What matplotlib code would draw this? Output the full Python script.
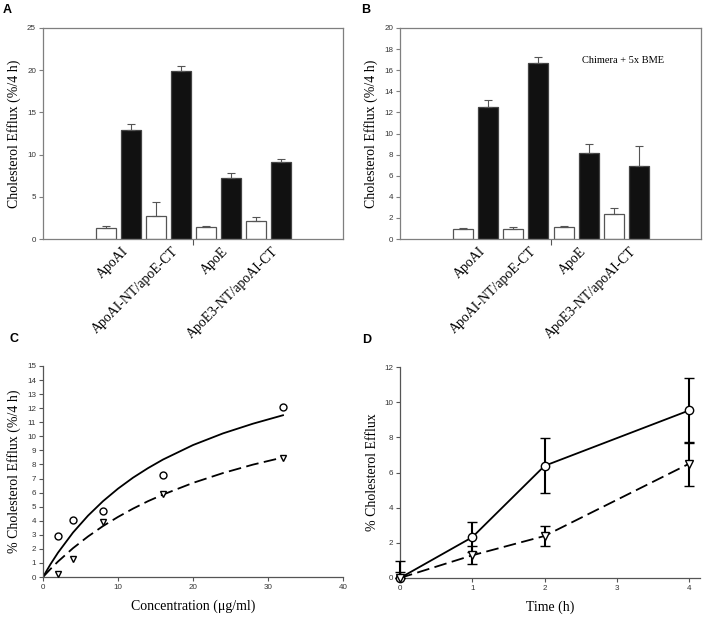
import matplotlib
matplotlib.use("Agg")
import matplotlib.pyplot as plt
import numpy as np

# ---------------- data ----------------
categories = ["ApoAI", "ApoAI-NT/apoE-CT", "ApoE", "ApoE3-NT/apoAI-CT"]

a_white = [1.25, 2.72, 1.43, 2.17]
a_white_err = [0.30, 1.70, 0.14, 0.47]
a_black = [12.95, 19.88, 7.20, 9.10]
a_black_err = [0.65, 0.56, 0.66, 0.42]

b_white = [0.95, 0.98, 1.14, 2.37]
b_white_err = [0.10, 0.19, 0.13, 0.60]
b_black = [12.47, 16.65, 8.16, 6.90]
b_black_err = [0.69, 0.56, 0.80, 1.90]
b_note = "Chimera + 5x BME"

conc = [2, 4, 8, 16, 32]
c_circle = [2.94, 4.08, 4.70, 7.26, 12.06]
c_tri = [0.24, 1.26, 3.94, 5.91, 8.43]
fit_x = [0, 1, 2, 4, 6, 8, 10, 12, 14, 16, 20, 24, 28, 32]
fit_solid = [0.0, 0.91, 1.73, 3.16, 4.36, 5.39, 6.28, 7.06, 7.74, 8.35, 9.38, 10.21, 10.90, 11.50]
fit_dash = [0.0, 0.57, 1.10, 2.05, 2.88, 3.62, 4.27, 4.86, 5.39, 5.86, 6.69, 7.39, 7.99, 8.50]

time_h = [0, 1, 2, 4]
d_circle = [0.0, 2.32, 6.38, 9.53]
d_circle_err_up = [0.95, 0.85, 1.56, 1.87]
d_circle_err_low = [0.0, 0.85, 1.56, 1.87]
d_tri = [0.0, 1.29, 2.39, 6.50]
d_tri_err_up = [0.36, 0.52, 0.59, 1.26]
d_tri_err_low = [0.0, 0.52, 0.59, 1.26]

# ---------------- style ----------------
SERIF = "Liberation Serif"
SANS = "Liberation Sans"
SPINE = "#7f7f7f"
TICKFS = 5.8
LABFS = 10

fig = plt.figure(figsize=(7.2, 6.22), dpi=100)
W, H = 720.0, 622.0


def axes_px(l, t, r, b):
    return fig.add_axes([l / W, 1 - b / H, (r - l) / W, (b - t) / H])


def style_ticks(ax):
    for lab in ax.get_xticklabels() + ax.get_yticklabels():
        lab.set_fontfamily(SANS)
        lab.set_fontsize(TICKFS)
        lab.set_color("#333333")


def bar_panel(ax, white, werr, black, berr, ymax, ystep):
    x = np.arange(len(categories))
    zeros = np.zeros(len(categories))
    ekw = dict(ecolor="#555555", elinewidth=0.8, capsize=3.2, capthick=0.8)
    ax.bar(x - 0.25, white, 0.4, color="white", edgecolor="#555555", linewidth=0.9,
           yerr=[zeros, werr], error_kw=ekw, zorder=2)
    ax.bar(x + 0.25, black, 0.4, color="#111111", edgecolor="#444444", linewidth=0.9,
           yerr=[zeros, berr], error_kw=ekw, zorder=2)
    ax.set_xlim(-1.51, 4.49)
    ax.set_ylim(0, ymax)
    ax.set_yticks(np.arange(0, ymax + 0.01, ystep))
    ax.set_xticks(x + 0.25)
    ax.set_xticklabels(categories, rotation=45, ha="right", fontfamily=SERIF, fontsize=LABFS)
    ax.set_xticks([1.49], minor=True)
    ax.tick_params(axis="x", which="major", length=0, pad=4)
    ax.tick_params(axis="x", which="minor", length=4, color="#555555", width=0.8)
    ax.tick_params(axis="y", length=3, color=SPINE, width=0.8, pad=2)
    for s in ax.spines.values():
        s.set_color(SPINE)
        s.set_linewidth(0.9)
    for lab in ax.get_yticklabels():
        lab.set_fontfamily(SANS)
        lab.set_fontsize(TICKFS)
        lab.set_color("#333333")
    ax.set_ylabel("Cholesterol Efflux (%/4 h)", fontfamily=SERIF, fontsize=LABFS, labelpad=4)


# Panel A
axA = axes_px(43, 28, 343, 239)
bar_panel(axA, a_white, a_white_err, a_black, a_black_err, 25, 5)

# Panel B
axB = axes_px(400, 28, 701, 239)
bar_panel(axB, b_white, b_white_err, b_black, b_black_err, 20, 2)
axB.text(0.74, 0.845, b_note, transform=axB.transAxes, ha="center", va="center",
         fontfamily=SERIF, fontsize=7.5)

# Panel C
axC = axes_px(43, 366, 343, 577)
axC.plot(fit_x, fit_solid, color="black", lw=1.3, zorder=2)
axC.plot(fit_x, fit_dash, color="black", lw=1.3, linestyle=(0, (7, 3)), zorder=2)
axC.plot(conc, c_circle, linestyle="none", marker="o", ms=5, mfc="white", mec="black", mew=1.0, zorder=3)
axC.plot(conc, c_tri, linestyle="none", marker="v", ms=5, mfc="white", mec="black", mew=1.0, zorder=3)
axC.set_xlim(0, 40)
axC.set_ylim(0, 15)
axC.set_xticks(np.arange(0, 41, 10))
axC.set_yticks(np.arange(0, 16, 1))
axC.set_xlabel("Concentration (\u03bcg/ml)", fontfamily=SERIF, fontsize=LABFS, labelpad=6)
axC.set_ylabel("% Cholesterol Efflux (%/4 h)", fontfamily=SERIF, fontsize=LABFS, labelpad=4)

# Panel D
axD = axes_px(400, 367, 700, 578)
ekd = dict(ecolor="black", elinewidth=1.5, capsize=3.5, capthick=1.5)
eb1 = axD.errorbar(time_h, d_circle, yerr=[d_circle_err_low, d_circle_err_up], color="black", lw=1.3,
                   marker="o", ms=6, mfc="white", mec="black", mew=1.0, zorder=3, **ekd)
eb2 = axD.errorbar(time_h, d_tri, yerr=[d_tri_err_low, d_tri_err_up], color="black", lw=1.3,
                   linestyle=(0, (7, 3)), marker="v", ms=6, mfc="white", mec="black", mew=1.0,
                   zorder=3, **ekd)
for eb in (eb1, eb2):
    for art in eb.lines[1] + eb.lines[2]:
        art.set_clip_on(False)
    eb.lines[0].set_clip_on(False)
axD.set_xlim(0, 4.15)
axD.set_ylim(0, 12)
axD.set_xticks([0, 1, 2, 3, 4])
axD.set_yticks(np.arange(0, 13, 2))
axD.set_xlabel("Time (h)", fontfamily=SERIF, fontsize=LABFS, labelpad=6)
axD.set_ylabel("% Cholesterol Efflux", fontfamily=SERIF, fontsize=LABFS, labelpad=4)

for ax in (axC, axD):
    ax.spines["top"].set_visible(False)
    ax.spines["right"].set_visible(False)
    for s in ("left", "bottom"):
        ax.spines[s].set_color("#555555")
        ax.spines[s].set_linewidth(0.9)
    ax.tick_params(length=3, color="#555555", width=0.8, pad=2)
    style_ticks(ax)

# Panel letters
for letter, x, y in (("A", 3, 4), ("B", 361, 4), ("C", 10, 333), ("D", 362, 334)):
    fig.text(x / W, 1 - y / H, letter, fontfamily=SANS, fontweight="bold", fontsize=9,
             ha="left", va="top")

fig.savefig("out.png", dpi=100)
